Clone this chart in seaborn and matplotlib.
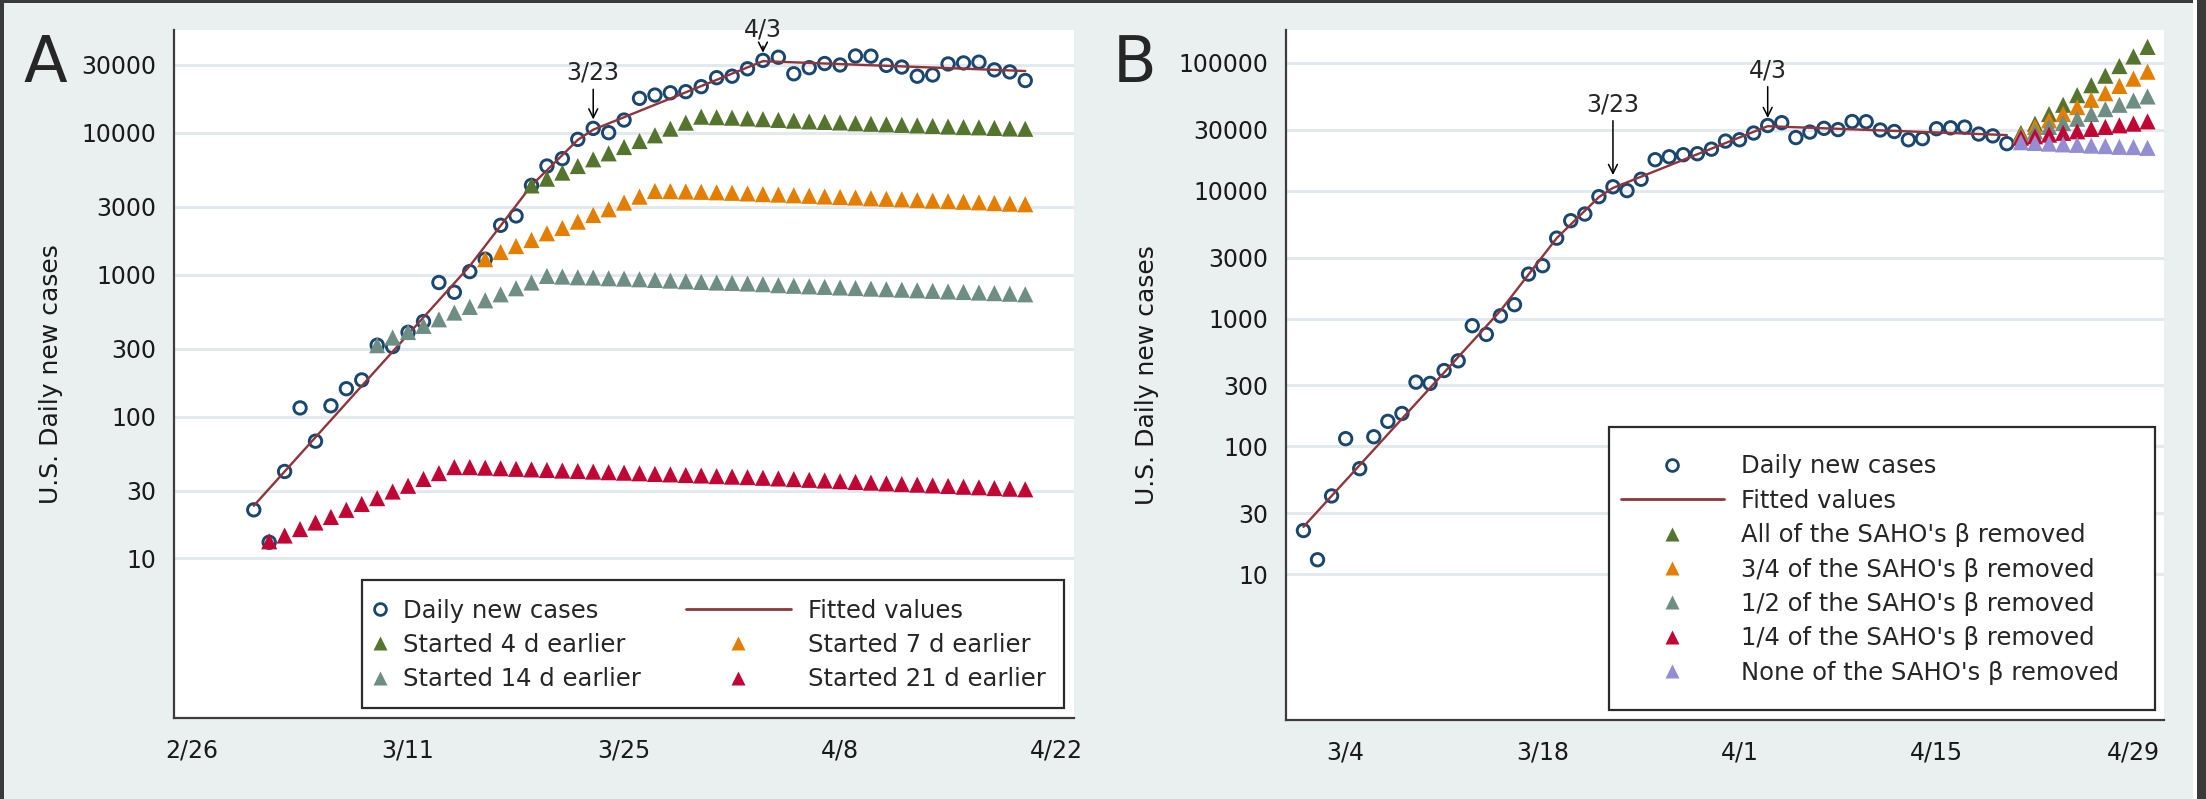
import numpy as np
import pandas as pd
import seaborn as sns
import matplotlib.pyplot as plt
from matplotlib.lines import Line2D
from matplotlib.patches import Rectangle
from matplotlib.ticker import FixedLocator, NullLocator, FixedFormatter

# --- values

obs_start = "2020-03-01"
daily_cases = [22, 13, 41, 115, 67, 119, 157, 181, 318, 311,
               392, 467, 879, 751, 1050, 1283, 2225, 2590, 4250, 5820,
               6560, 8970, 10720, 10000, 12270, 17450, 18400, 19100, 19450, 21100,
               24400, 25000, 28200, 32300, 34000, 26000, 28700, 30700, 30000, 34700,
               34600, 29800, 29000, 25000, 25500, 30500, 31000, 31400, 27700, 26800,
               23300]

fit_dates = ["2020-03-01", "2020-03-15", "2020-03-19", "2020-03-22",
             "2020-03-23", "2020-04-03", "2020-04-20"]
fit_values = [23.5, 1150, 4250, 8900, 10500, 31900, 27200]

# panel A: social distancing started earlier
start_4d = "2020-03-19"
cases_4d = [4250, 4740, 5230, 5820, 6490, 7150, 7920, 8730, 9580, 10670,
            11760, 12960, 12850, 12750, 12600, 12450, 12300, 12150, 12000, 11900,
            11800, 11650, 11550, 11450, 11350, 11250, 11150, 11050, 10950, 10900,
            10800, 10700, 10650]
start_7d = "2020-03-16"
cases_7d = [1283, 1443, 1589, 1753, 1954, 2130, 2361, 2630, 2884, 3215,
            3540, 3880, 3870, 3850, 3830, 3800, 3770, 3730, 3690, 3660,
            3620, 3590, 3550, 3520, 3490, 3450, 3420, 3390, 3350, 3320,
            3290, 3260, 3230, 3190, 3160, 3130]
start_14d = "2020-03-09"
cases_14d = [318, 360, 394, 435, 484, 540, 592, 659, 726, 801,
             879, 978, 968, 957, 953, 942, 937, 927, 917, 907,
             897, 888, 879, 874, 865, 856, 842, 834, 826, 819,
             811, 804, 796, 789, 782, 775, 768, 760, 754, 747,
             740, 733, 726]
start_21d = "2020-03-02"
cases_21d = [13.2, 14.5, 16.1, 17.9, 19.6, 22.0, 24.2, 26.6, 29.6, 32.5,
             36.3, 39.9, 44.0, 44.0, 43.6, 43.2, 42.8, 42.4, 42.0, 41.6,
             41.3, 40.9, 40.5, 40.2, 39.8, 39.4, 39.1, 38.7, 38.4, 38.0,
             37.7, 37.4, 37.0, 36.6, 36.2, 35.8, 35.4, 35.0, 34.6, 34.2,
             33.8, 33.4, 33.1, 32.7, 32.4, 32.0, 31.7, 31.3, 31.0, 30.7]

# panel B: share of the SAHO's beta removed, projected from 4/21
proj_start = "2020-04-21"
beta_all = [28300, 33400, 39700, 46900, 55800, 66700, 79200, 94200, 112000, 133000]
beta_3q = [27400, 31500, 35400, 39700, 45000, 51300, 57800, 65900, 75100, 85100]
beta_half = [26600, 29100, 31500, 33800, 36500, 39700, 43400, 46900, 50700, 54500]
beta_1q = [25900, 26600, 27400, 28300, 29100, 30400, 31500, 32400, 33400, 34800]
beta_none = [23900, 23600, 23300, 23000, 22800, 22500, 22300, 22000, 21900, 21600]

labels_a = ["Daily new cases", "Fitted values", "Started 4 d earlier",
            "Started 7 d earlier", "Started 14 d earlier", "Started 21 d earlier"]
labels_b = ["Daily new cases", "Fitted values", "All of the SAHO's \u03b2 removed",
            "3/4 of the SAHO's \u03b2 removed", "1/2 of the SAHO's \u03b2 removed",
            "1/4 of the SAHO's \u03b2 removed", "None of the SAHO's \u03b2 removed"]

ticks_a = ["2/26", "3/11", "3/25", "4/8", "4/22"]
ticks_b = ["3/4", "3/18", "4/1", "4/15", "4/29"]
yticks_a = [10, 30, 100, 300, 1000, 3000, 10000, 30000]
yticks_b = [10, 30, 100, 300, 1000, 3000, 10000, 30000, 100000]

NAVY = "#1A476F"
MAROON = "#90353B"
GREEN = "#55752F"
ORANGE = "#E37E00"
TEAL = "#6E8E84"
CRANBERRY = "#C10534"
LAVENDER = "#938DD2"
BG = "#EAEFF0"
GRID = "#E3EAED"
AXC = "#3C3C3C"

sns.set_style("white")
plt.rcParams["font.family"] = ["DejaVu Sans"]

W, H = 2206, 799
fig = plt.figure(figsize=(W / 100, H / 100), dpi=100)
fig.patch.set_facecolor(BG)


def days(start, n):
    return pd.date_range(start, periods=n, freq="D")


def pix_axes(left, top, right, bottom):
    return fig.add_axes([left / W, 1 - bottom / H, (right - left) / W, (bottom - top) / H])


def base_plot(ax):
    sns.scatterplot(x=days(obs_start, len(daily_cases)), y=daily_cases, ax=ax,
                    marker="o", s=80, color=NAVY, facecolor="none",
                    edgecolor=NAVY, linewidth=2.1, zorder=3)
    sns.lineplot(x=pd.to_datetime(fit_dates), y=fit_values, ax=ax,
                 color=MAROON, linewidth=1.7, errorbar=None, zorder=4)


def tri(ax, start, vals, color):
    sns.scatterplot(x=days(start, len(vals)), y=vals, ax=ax, marker="^", s=135,
                    color=color, edgecolor="none", linewidth=0, zorder=5)


def style_axes(ax, yticks, ylim, xlim, major, labels, minor):
    ax.set_facecolor("white")
    ax.set_yscale("log")
    ax.set_ylim(*ylim)
    ax.yaxis.set_major_locator(FixedLocator(yticks))
    ax.yaxis.set_major_formatter(FixedFormatter([str(v) for v in yticks]))
    ax.yaxis.set_minor_locator(NullLocator())
    ax.set_xlim(*xlim)
    ax.set_xticks(pd.to_datetime(major))
    ax.set_xticklabels(labels)
    ax.set_xticks(minor, minor=True)
    ax.grid(axis="y", which="major", color=GRID, linewidth=2.2, zorder=0)
    ax.set_axisbelow(True)
    for s in ["top", "right"]:
        ax.spines[s].set_visible(False)
    for s in ["left", "bottom"]:
        ax.spines[s].set_color(AXC)
        ax.spines[s].set_linewidth(1.6)
    ax.tick_params(axis="y", which="major", length=7.2, width=1.4, color=AXC,
                   pad=5.5, labelsize=17, labelcolor="#1a1a1a")
    ax.tick_params(axis="x", which="major", length=7.8, width=1.4, color=AXC,
                   pad=7, labelsize=17, labelcolor="#1a1a1a")
    ax.tick_params(axis="x", which="minor", length=4.2, width=1.2, color=AXC)
    ax.set_xlabel("")
    ax.set_ylabel("U.S. Daily new cases", fontsize=18, color="#1a1a1a")


circ = Line2D([], [], ls="", marker="o", ms=8.5, mfc="none", mec=NAVY, mew=2.0)
fitl = Line2D([], [], color=MAROON, lw=2.0)


def trih(c):
    return Line2D([], [], ls="", marker="^", ms=10.5, color=c, mec="none")


# ---------------- panel A
axA = pix_axes(174, 30, 1074, 718)
base_plot(axA)
tri(axA, start_4d, cases_4d, GREEN)
tri(axA, start_7d, cases_7d, ORANGE)
tri(axA, start_14d, cases_14d, TEAL)
tri(axA, start_21d, cases_21d, CRANBERRY)

d0 = pd.Timestamp("2020-02-26")
style_axes(axA, yticks_a, (0.751, 52900),
           (d0 - pd.Timedelta(days=1.17), d0 + pd.Timedelta(days=57.16)),
           ["2020-02-26", "2020-03-11", "2020-03-25", "2020-04-08", "2020-04-22"], ticks_a,
           pd.date_range("2020-02-29", "2020-04-21", freq="2D"))
axA.yaxis.set_label_coords(-0.1233, 0.5)

axA.annotate("3/23", xy=(pd.Timestamp("2020-03-23"), 12400),
             xytext=(pd.Timestamp("2020-03-23"), 26500), ha="center", va="center",
             fontsize=17, annotation_clip=False,
             arrowprops=dict(arrowstyle="->", color="black", lw=1.1, shrinkA=1, shrinkB=0,
                             mutation_scale=16))
axA.annotate("4/3", xy=(pd.Timestamp("2020-04-03"), 36600),
             xytext=(pd.Timestamp("2020-04-03"), 53400), ha="center", va="center",
             fontsize=17, annotation_clip=False,
             arrowprops=dict(arrowstyle="->", color="black", lw=1.1, shrinkA=1, shrinkB=0,
                             mutation_scale=16))

axA.add_patch(Rectangle((0.2089, 0.01453), 0.78, 0.1861, transform=axA.transAxes,
                        facecolor="white", edgecolor="#2b2b2b", lw=1.6, zorder=6))
leg1 = axA.legend([circ, trih(GREEN), trih(TEAL)], [labels_a[0], labels_a[2], labels_a[4]],
                  loc="center left", bbox_to_anchor=(0.2158, 0.1061),
                  bbox_transform=axA.transAxes, frameon=False, fontsize=17.5,
                  handlelength=1.0, handletextpad=0.43, labelspacing=0.43,
                  borderpad=0, borderaxespad=0)
leg1.set_zorder(7)
axA.add_artist(leg1)
leg2 = axA.legend([fitl, trih(ORANGE), trih(CRANBERRY)], [labels_a[1], labels_a[3], labels_a[5]],
                  loc="center left", bbox_to_anchor=(0.5689, 0.1061),
                  bbox_transform=axA.transAxes, frameon=False, fontsize=17.5,
                  handlelength=4.3, handletextpad=0.7, labelspacing=0.43,
                  borderpad=0, borderaxespad=0)
leg2.set_zorder(7)

# ---------------- panel B
axB = pix_axes(1286, 30, 2164, 720)
base_plot(axB)
tri(axB, proj_start, beta_all, GREEN)
tri(axB, proj_start, beta_3q, ORANGE)
tri(axB, proj_start, beta_half, TEAL)
tri(axB, proj_start, beta_1q, CRANBERRY)
tri(axB, proj_start, beta_none, LAVENDER)

d1 = pd.Timestamp("2020-03-04")
style_axes(axB, yticks_b, (0.726, 180300),
           (d1 - pd.Timedelta(days=4.24), d1 + pd.Timedelta(days=58.17)),
           ["2020-03-04", "2020-03-18", "2020-04-01", "2020-04-15", "2020-04-29"], ticks_b,
           pd.date_range("2020-03-01", "2020-04-30", freq="2D"))
axB.yaxis.set_label_coords(-0.1443, 0.5)

axB.annotate("3/23", xy=(pd.Timestamp("2020-03-23"), 13250),
             xytext=(pd.Timestamp("2020-03-23"), 47500), ha="center", va="center",
             fontsize=17, annotation_clip=False,
             arrowprops=dict(arrowstyle="->", color="black", lw=1.1, shrinkA=1, shrinkB=0,
                             mutation_scale=16))
axB.annotate("4/3", xy=(pd.Timestamp("2020-04-03"), 37000),
             xytext=(pd.Timestamp("2020-04-03"), 87700), ha="center", va="center",
             fontsize=17, annotation_clip=False,
             arrowprops=dict(arrowstyle="->", color="black", lw=1.1, shrinkA=1, shrinkB=0,
                             mutation_scale=16))

axB.add_patch(Rectangle((0.3684, 0.0145), 0.6209, 0.4106, transform=axB.transAxes,
                        facecolor="white", edgecolor="#2b2b2b", lw=1.6, zorder=6))
legB = axB.legend([circ, fitl, trih(GREEN), trih(ORANGE), trih(TEAL), trih(CRANBERRY),
                   trih(LAVENDER)], labels_b,
                  loc="center left", bbox_to_anchor=(0.3812, 0.2181),
                  bbox_transform=axB.transAxes, frameon=False, fontsize=17.5,
                  handlelength=4.24, handletextpad=0.7, labelspacing=0.43,
                  borderpad=0, borderaxespad=0)
legB.set_zorder(7)

# panel letters
fig.text(45.8 / W, 1 - 81.7 / H, "A", fontsize=46, ha="center", va="baseline")
fig.text(1135 / W, 1 - 81.7 / H, "B", fontsize=46, ha="center", va="baseline")

# outer frame of the exported image
for (x, y, w, h, c) in [(0, H - 3, W, 3, "#3A3A3A"), (0, 0, 4, H, "#3A3A3A"),
                        (W - 13, 0, 4, H, "white"), (W - 9, 0, 9, H, "#3A3A3A")]:
    fig.patches.append(Rectangle((x / W, y / H), w / W, h / H, transform=fig.transFigure,
                                 facecolor=c, edgecolor="none", zorder=10))

fig.savefig("out.png", dpi=100, facecolor=fig.get_facecolor())
